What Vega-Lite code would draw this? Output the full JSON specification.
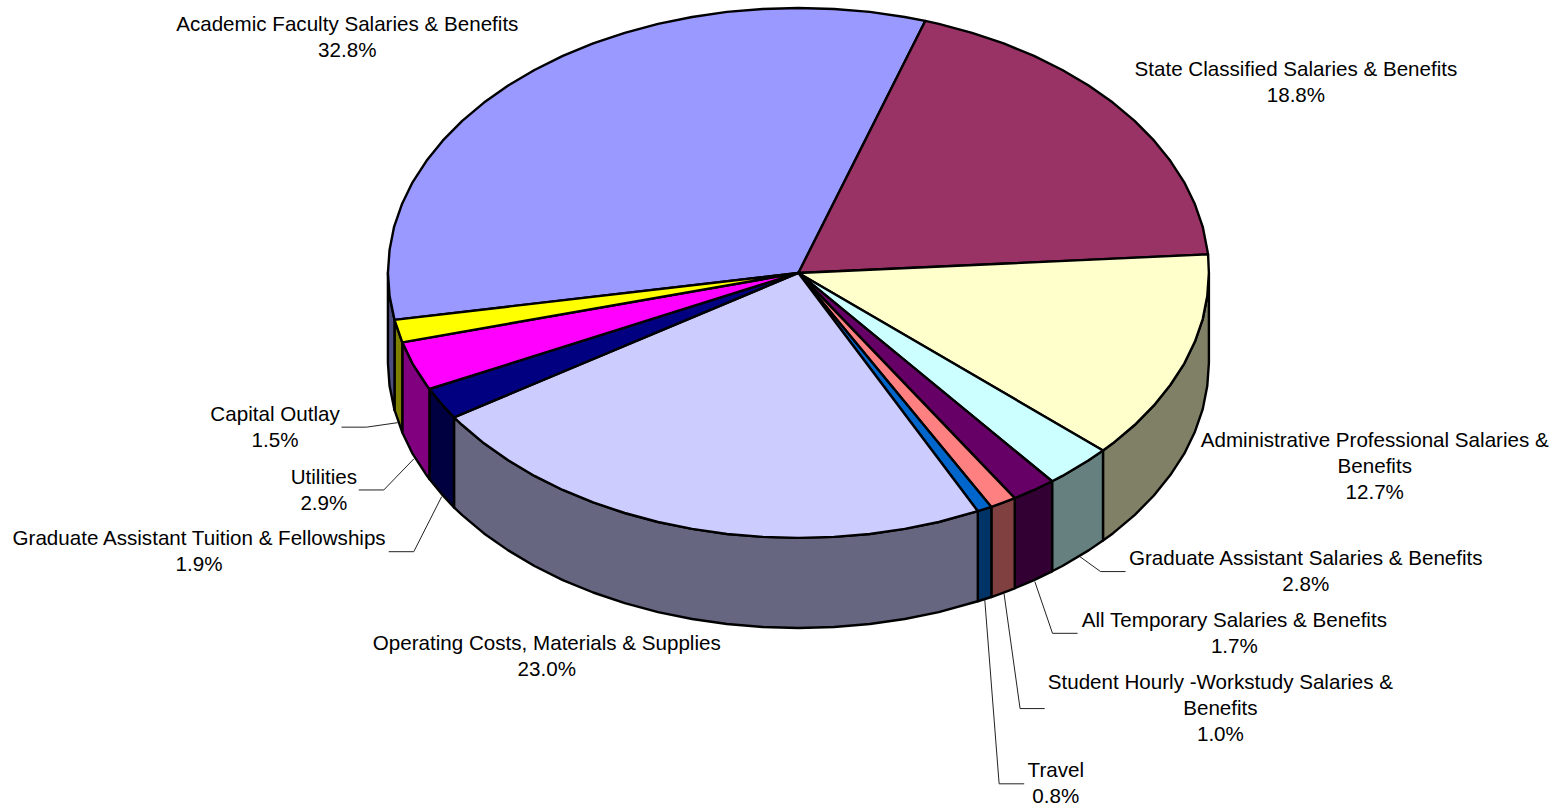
{"$schema":"https://vega.github.io/schema/vega-lite/v6.json","width":1557,"height":809,"padding":0,"autosize":{"type":"none"},"background":"white","config":{"view":{"stroke":null}},
"datasets":{
"faces":[
{"slice":"Academic","order":0,"x":0,"y":0},{"slice":"Academic","order":1,"x":-98.4,"y":17.7},{"slice":"Academic","order":2,"x":-99.6,"y":8.7},{"slice":"Academic","order":3,"x":-100,"y":0},{"slice":"Academic","order":4,"x":-99.6,"y":-8.7},{"slice":"Academic","order":5,"x":-98.5,"y":-17.4},{"slice":"Academic","order":6,"x":-96.6,"y":-25.9},{"slice":"Academic","order":7,"x":-94,"y":-34.2},{"slice":"Academic","order":8,"x":-90.6,"y":-42.3},{"slice":"Academic","order":9,"x":-86.6,"y":-50},{"slice":"Academic","order":10,"x":-81.9,"y":-57.4},{"slice":"Academic","order":11,"x":-76.6,"y":-64.3},{"slice":"Academic","order":12,"x":-70.7,"y":-70.7},{"slice":"Academic","order":13,"x":-64.3,"y":-76.6},{"slice":"Academic","order":14,"x":-57.4,"y":-81.9},{"slice":"Academic","order":15,"x":-50,"y":-86.6},{"slice":"Academic","order":16,"x":-42.3,"y":-90.6},{"slice":"Academic","order":17,"x":-34.2,"y":-94},{"slice":"Academic","order":18,"x":-25.9,"y":-96.6},{"slice":"Academic","order":19,"x":-17.4,"y":-98.5},{"slice":"Academic","order":20,"x":-8.7,"y":-99.6},{"slice":"Academic","order":21,"x":0,"y":-100},{"slice":"Academic","order":22,"x":8.7,"y":-99.6},{"slice":"Academic","order":23,"x":17.4,"y":-98.5},{"slice":"Academic","order":24,"x":25.9,"y":-96.6},{"slice":"Academic","order":25,"x":30.9,"y":-95.1},{"slice":"Academic","order":26,"x":0,"y":0},
{"slice":"State","order":0,"x":0,"y":0},{"slice":"State","order":1,"x":30.9,"y":-95.1},{"slice":"State","order":2,"x":34.2,"y":-94},{"slice":"State","order":3,"x":42.3,"y":-90.6},{"slice":"State","order":4,"x":50,"y":-86.6},{"slice":"State","order":5,"x":57.4,"y":-81.9},{"slice":"State","order":6,"x":64.3,"y":-76.6},{"slice":"State","order":7,"x":70.7,"y":-70.7},{"slice":"State","order":8,"x":76.6,"y":-64.3},{"slice":"State","order":9,"x":81.9,"y":-57.4},{"slice":"State","order":10,"x":86.6,"y":-50},{"slice":"State","order":11,"x":90.6,"y":-42.3},{"slice":"State","order":12,"x":94,"y":-34.2},{"slice":"State","order":13,"x":96.6,"y":-25.9},{"slice":"State","order":14,"x":98.5,"y":-17.4},{"slice":"State","order":15,"x":99.6,"y":-8.7},{"slice":"State","order":16,"x":99.8,"y":-7},{"slice":"State","order":17,"x":0,"y":0},
{"slice":"Admin","order":0,"x":0,"y":0},{"slice":"Admin","order":1,"x":99.8,"y":-7},{"slice":"Admin","order":2,"x":100,"y":0},{"slice":"Admin","order":3,"x":99.6,"y":8.7},{"slice":"Admin","order":4,"x":98.5,"y":17.4},{"slice":"Admin","order":5,"x":96.6,"y":25.9},{"slice":"Admin","order":6,"x":94,"y":34.2},{"slice":"Admin","order":7,"x":90.6,"y":42.3},{"slice":"Admin","order":8,"x":86.6,"y":50},{"slice":"Admin","order":9,"x":81.9,"y":57.4},{"slice":"Admin","order":10,"x":76.6,"y":64.3},{"slice":"Admin","order":11,"x":74.2,"y":67},{"slice":"Admin","order":12,"x":0,"y":0},
{"slice":"GradAsst","order":0,"x":0,"y":0},{"slice":"GradAsst","order":1,"x":74.2,"y":67},{"slice":"GradAsst","order":2,"x":70.7,"y":70.7},{"slice":"GradAsst","order":3,"x":64.3,"y":76.6},{"slice":"GradAsst","order":4,"x":61.8,"y":78.6},{"slice":"GradAsst","order":5,"x":0,"y":0},
{"slice":"Temporary","order":0,"x":0,"y":0},{"slice":"Temporary","order":1,"x":61.8,"y":78.6},{"slice":"Temporary","order":2,"x":57.4,"y":81.9},{"slice":"Temporary","order":3,"x":52.7,"y":85},{"slice":"Temporary","order":4,"x":0,"y":0},
{"slice":"Student","order":0,"x":0,"y":0},{"slice":"Student","order":1,"x":52.7,"y":85},{"slice":"Student","order":2,"x":50,"y":86.6},{"slice":"Student","order":3,"x":47,"y":88.3},{"slice":"Student","order":4,"x":0,"y":0},
{"slice":"Travel","order":0,"x":0,"y":0},{"slice":"Travel","order":1,"x":47,"y":88.3},{"slice":"Travel","order":2,"x":43.7,"y":89.9},{"slice":"Travel","order":3,"x":0,"y":0},
{"slice":"Operating","order":0,"x":0,"y":0},{"slice":"Operating","order":1,"x":43.7,"y":89.9},{"slice":"Operating","order":2,"x":34.2,"y":94},{"slice":"Operating","order":3,"x":25.9,"y":96.6},{"slice":"Operating","order":4,"x":17.4,"y":98.5},{"slice":"Operating","order":5,"x":8.7,"y":99.6},{"slice":"Operating","order":6,"x":0,"y":100},{"slice":"Operating","order":7,"x":-8.7,"y":99.6},{"slice":"Operating","order":8,"x":-17.4,"y":98.5},{"slice":"Operating","order":9,"x":-25.9,"y":96.6},{"slice":"Operating","order":10,"x":-34.2,"y":94},{"slice":"Operating","order":11,"x":-42.3,"y":90.6},{"slice":"Operating","order":12,"x":-50,"y":86.6},{"slice":"Operating","order":13,"x":-57.4,"y":81.9},{"slice":"Operating","order":14,"x":-64.3,"y":76.6},{"slice":"Operating","order":15,"x":-70.7,"y":70.7},{"slice":"Operating","order":16,"x":-76.6,"y":64.3},{"slice":"Operating","order":17,"x":-81.9,"y":57.4},{"slice":"Operating","order":18,"x":-83.9,"y":54.5},{"slice":"Operating","order":19,"x":0,"y":0},
{"slice":"Tuition","order":0,"x":0,"y":0},{"slice":"Tuition","order":1,"x":-83.9,"y":54.5},{"slice":"Tuition","order":2,"x":-86.6,"y":50},{"slice":"Tuition","order":3,"x":-89.9,"y":43.8},{"slice":"Tuition","order":4,"x":0,"y":0},
{"slice":"Utilities","order":0,"x":0,"y":0},{"slice":"Utilities","order":1,"x":-89.9,"y":43.8},{"slice":"Utilities","order":2,"x":-90.6,"y":42.3},{"slice":"Utilities","order":3,"x":-94,"y":34.2},{"slice":"Utilities","order":4,"x":-96.5,"y":26.2},{"slice":"Utilities","order":5,"x":0,"y":0},
{"slice":"Capital","order":0,"x":0,"y":0},{"slice":"Capital","order":1,"x":-96.5,"y":26.2},{"slice":"Capital","order":2,"x":-98.4,"y":17.7},{"slice":"Capital","order":3,"x":0,"y":0}
],
"walls":[
{"slice":"Admin","x":100,"y":0,"y2":34},{"slice":"Admin","x":99.6,"y":8.7,"y2":42.7},{"slice":"Admin","x":98.5,"y":17.4,"y2":51.4},{"slice":"Admin","x":96.6,"y":25.9,"y2":59.9},{"slice":"Admin","x":94,"y":34.2,"y2":68.2},{"slice":"Admin","x":90.6,"y":42.3,"y2":76.3},{"slice":"Admin","x":86.6,"y":50,"y2":84},{"slice":"Admin","x":81.9,"y":57.4,"y2":91.4},{"slice":"Admin","x":76.6,"y":64.3,"y2":98.3},{"slice":"Admin","x":74.2,"y":67,"y2":101},
{"slice":"GradAsst","x":74.2,"y":67,"y2":101},{"slice":"GradAsst","x":70.7,"y":70.7,"y2":104.7},{"slice":"GradAsst","x":64.3,"y":76.6,"y2":110.6},{"slice":"GradAsst","x":61.8,"y":78.6,"y2":112.6},
{"slice":"Temporary","x":61.8,"y":78.6,"y2":112.6},{"slice":"Temporary","x":57.4,"y":81.9,"y2":115.9},{"slice":"Temporary","x":52.7,"y":85,"y2":119},
{"slice":"Student","x":52.7,"y":85,"y2":119},{"slice":"Student","x":50,"y":86.6,"y2":120.6},{"slice":"Student","x":47,"y":88.3,"y2":122.3},
{"slice":"Travel","x":47,"y":88.3,"y2":122.3},{"slice":"Travel","x":43.7,"y":89.9,"y2":123.9},
{"slice":"Operating","x":43.7,"y":89.9,"y2":123.9},{"slice":"Operating","x":34.2,"y":94,"y2":128},{"slice":"Operating","x":25.9,"y":96.6,"y2":130.6},{"slice":"Operating","x":17.4,"y":98.5,"y2":132.5},{"slice":"Operating","x":8.7,"y":99.6,"y2":133.6},{"slice":"Operating","x":0,"y":100,"y2":134},{"slice":"Operating","x":-8.7,"y":99.6,"y2":133.6},{"slice":"Operating","x":-17.4,"y":98.5,"y2":132.5},{"slice":"Operating","x":-25.9,"y":96.6,"y2":130.6},{"slice":"Operating","x":-34.2,"y":94,"y2":128},{"slice":"Operating","x":-42.3,"y":90.6,"y2":124.6},{"slice":"Operating","x":-50,"y":86.6,"y2":120.6},{"slice":"Operating","x":-57.4,"y":81.9,"y2":115.9},{"slice":"Operating","x":-64.3,"y":76.6,"y2":110.6},{"slice":"Operating","x":-70.7,"y":70.7,"y2":104.7},{"slice":"Operating","x":-76.6,"y":64.3,"y2":98.3},{"slice":"Operating","x":-81.9,"y":57.4,"y2":91.4},{"slice":"Operating","x":-83.9,"y":54.5,"y2":88.5},
{"slice":"Tuition","x":-83.9,"y":54.5,"y2":88.5},{"slice":"Tuition","x":-86.6,"y":50,"y2":84},{"slice":"Tuition","x":-89.9,"y":43.8,"y2":77.8},
{"slice":"Utilities","x":-89.9,"y":43.8,"y2":77.8},{"slice":"Utilities","x":-90.6,"y":42.3,"y2":76.3},{"slice":"Utilities","x":-94,"y":34.2,"y2":68.2},{"slice":"Utilities","x":-96.5,"y":26.2,"y2":60.2},
{"slice":"Capital","x":-96.5,"y":26.2,"y2":60.2},{"slice":"Capital","x":-98.4,"y":17.7,"y2":51.7},
{"slice":"Academic","x":-98.4,"y":17.7,"y2":51.7},{"slice":"Academic","x":-99.6,"y":8.7,"y2":42.7},{"slice":"Academic","x":-100,"y":0,"y2":34}
],
"leaders":[
{"slice":"Capital","order":0,"x":-111.3,"y":58.2},{"slice":"Capital","order":1,"x":-105.2,"y":58.2},{"slice":"Capital","order":2,"x":-97.6,"y":56.5},
{"slice":"Utilities","order":0,"x":-107.1,"y":81.9},{"slice":"Utilities","order":1,"x":-101,"y":81.9},{"slice":"Utilities","order":2,"x":-93.7,"y":70.2},
{"slice":"Tuition","order":0,"x":-99.8,"y":105.2},{"slice":"Tuition","order":1,"x":-93.7,"y":105.2},{"slice":"Tuition","order":2,"x":-86.9,"y":84.4},
{"slice":"GradAsst","order":0,"x":79.7,"y":112.7},{"slice":"GradAsst","order":1,"x":73.6,"y":112.7},{"slice":"GradAsst","order":2,"x":68.6,"y":107.1},
{"slice":"Temporary","order":0,"x":68,"y":136},{"slice":"Temporary","order":1,"x":61.9,"y":136},{"slice":"Temporary","order":2,"x":57.6,"y":116.5},
{"slice":"Student","order":0,"x":60,"y":164.4},{"slice":"Student","order":1,"x":54,"y":164.4},{"slice":"Student","order":2,"x":50.1,"y":121.1},
{"slice":"Travel","order":0,"x":55,"y":192.8},{"slice":"Travel","order":1,"x":48.9,"y":192.8},{"slice":"Travel","order":2,"x":45.4,"y":123.4}
],
"labels":[
{"label":"Academic Faculty Salaries & Benefits\n32.8%","share":32.8,"x":-109.9,"y":-93.5},
{"label":"State Classified Salaries & Benefits\n18.8%","share":18.8,"x":121.2,"y":-76.6},
{"label":"Administrative Professional Salaries &\nBenefits\n12.7%","share":12.7,"x":140.4,"y":63.5},
{"label":"Graduate Assistant Salaries & Benefits\n2.8%","share":2.8,"x":123.6,"y":108},
{"label":"All Temporary Salaries & Benefits\n1.7%","share":1.7,"x":106.2,"y":131.3},
{"label":"Student Hourly -Workstudy Salaries &\nBenefits\n1.0%","share":1.0,"x":102.8,"y":154.9},
{"label":"Travel\n0.8%","share":0.8,"x":62.7,"y":188},
{"label":"Operating Costs, Materials & Supplies\n23.0%","share":23.0,"x":-61.3,"y":140},
{"label":"Graduate Assistant Tuition & Fellowships\n1.9%","share":1.9,"x":-146,"y":100.4},
{"label":"Utilities\n2.9%","share":2.9,"x":-115.6,"y":77.4},
{"label":"Capital Outlay\n1.5%","share":1.5,"x":-127.5,"y":53.6}
]},
"resolve":{"scale":{"fill":"independent"}},
"layer":[
{"data":{"name":"walls"},"mark":{"type":"area","stroke":"black","strokeWidth":2.4,"strokeJoin":"round"},
"encoding":{"x":{"field":"x","type":"quantitative","axis":null,"scale":{"domain":[-194.5,184.8],"nice":false,"zero":false}},"y":{"field":"y","type":"quantitative","axis":null,"scale":{"domain":[-103,202.3],"nice":false,"zero":false,"reverse":true}},"y2":{"field":"y2"},
"fill":{"field":"slice","type":"nominal","legend":null,"scale":{"domain":["Academic","State","Admin","GradAsst","Temporary","Student","Travel","Operating","Tuition","Utilities","Capital"],"range":["#4D4D80","#4D1A33","#808066","#668080","#330033","#804040","#003366","#666680","#000040","#800080","#808000"]}}}},
{"data":{"name":"faces"},"mark":{"type":"line","stroke":"black","strokeWidth":2.4,"strokeJoin":"round"},
"encoding":{"x":{"field":"x","type":"quantitative"},"y":{"field":"y","type":"quantitative"},"order":{"field":"order","type":"quantitative"},
"fill":{"field":"slice","type":"nominal","legend":null,"scale":{"domain":["Academic","State","Admin","GradAsst","Temporary","Student","Travel","Operating","Tuition","Utilities","Capital"],"range":["#9999FF","#993366","#FFFFCC","#CCFFFF","#660066","#FF8080","#0066CC","#CCCCFF","#000080","#FF00FF","#FFFF00"]}}}},
{"data":{"name":"leaders"},"mark":{"type":"line","color":"#222222","strokeWidth":1},
"encoding":{"x":{"field":"x","type":"quantitative"},"y":{"field":"y","type":"quantitative"},"order":{"field":"order","type":"quantitative"},"detail":{"field":"slice"}}},
{"data":{"name":"labels"},"mark":{"type":"text","font":"Liberation Sans","fontSize":20.6,"color":"black","lineBreak":"\n","lineHeight":26,"align":"center","baseline":"middle"},
"encoding":{"x":{"field":"x","type":"quantitative"},"y":{"field":"y","type":"quantitative"},"text":{"field":"label"}}}
]}
